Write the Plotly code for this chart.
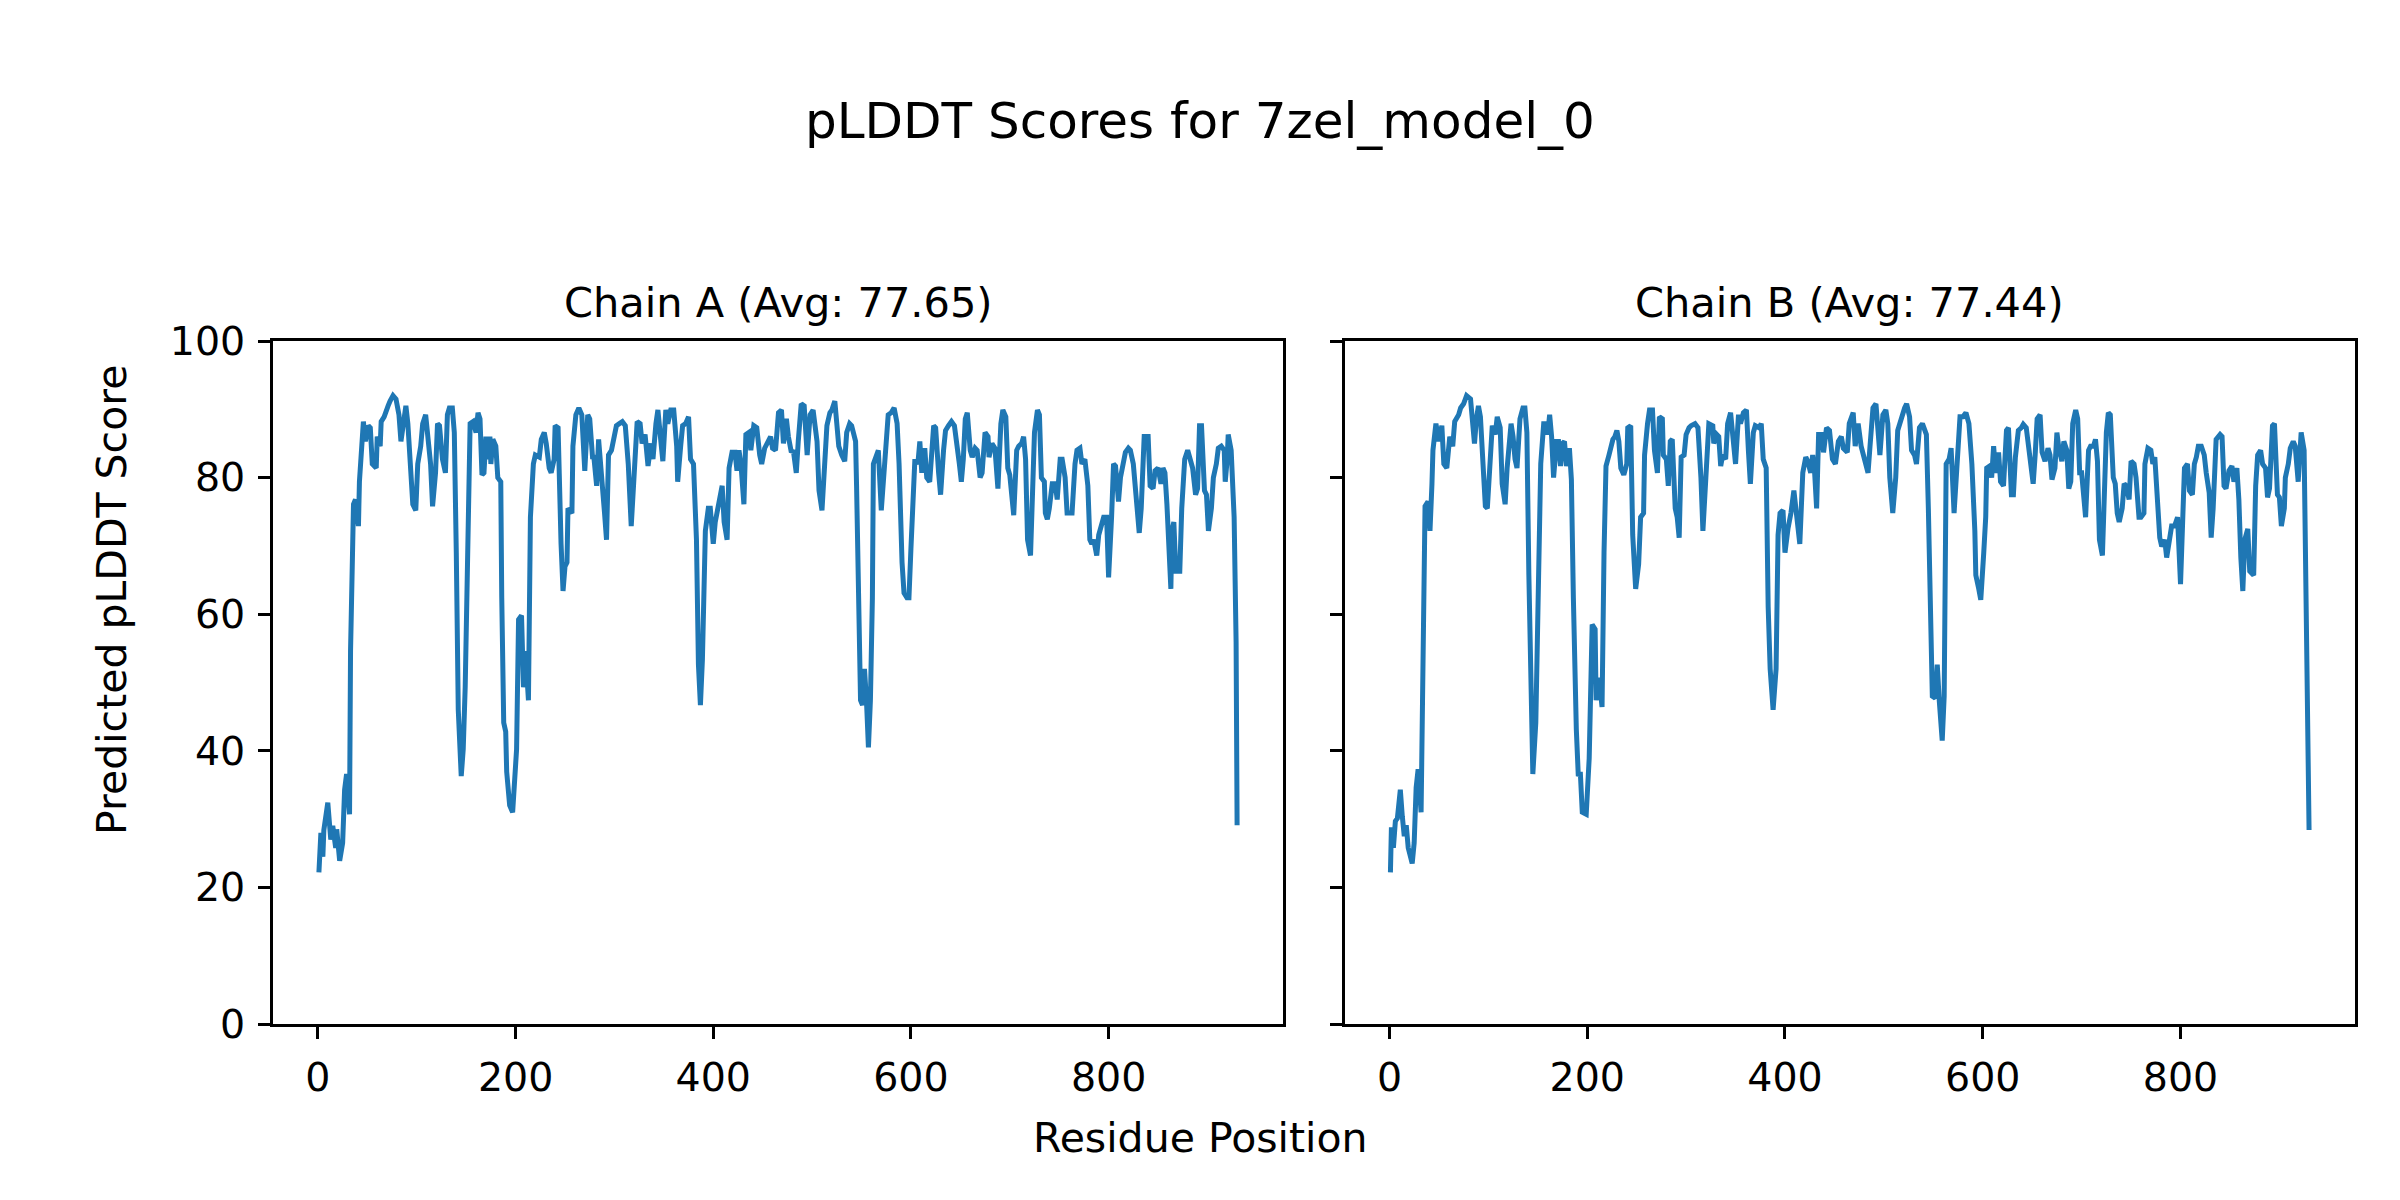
import plotly.graph_objects as go

# ---------------- data ----------------
chain_a_res = [1, 3, 5, 6, 10, 13, 15, 18, 19, 22, 25, 27, 29, 32, 33, 36, 38, 41, 42, 44,
               46, 48, 51, 53, 55, 59, 60, 63, 64, 67, 69, 71, 73, 76, 79, 82, 84, 87, 89, 91,
               94, 96, 99, 101, 104, 106, 109, 111, 114, 116, 119, 121, 123, 126, 129, 131, 133, 136, 138, 140,
               142, 145, 147, 149, 152, 154, 157, 160, 162, 164, 166, 168, 170, 172, 174, 175, 177, 180, 182, 185,
               186, 188, 190, 191, 194, 197, 201, 203, 206, 208, 210, 213, 215, 218, 220, 224, 226, 229, 231, 234,
               236, 239, 240, 243, 246, 248, 250, 252, 253, 257, 258, 261, 264, 267, 270, 273, 275, 278, 279, 282,
               284, 287, 290, 292, 294, 297, 300, 302, 305, 308, 311, 314, 317, 320, 323, 326, 328, 331, 334, 337,
               339, 342, 344, 347, 349, 352, 354, 357, 360, 363, 364, 367, 369, 372, 375, 377, 380, 383, 385, 387,
               389, 392, 395, 397, 400, 402, 405, 409, 411, 414, 416, 419, 422, 424, 426, 428, 431, 433, 436, 438,
               441, 444, 447, 449, 452, 455, 458, 460, 463, 466, 469, 471, 474, 476, 479, 481, 484, 486, 489, 492,
               495, 498, 501, 505, 507, 510, 513, 515, 518, 520, 523, 525, 527, 530, 533, 535, 538, 540, 544, 545,
               547, 549, 551, 553, 555, 557, 559, 561, 562, 564, 567, 570, 573, 575, 577, 580, 583, 586, 588, 591,
               593, 596, 598, 600, 602, 604, 607, 609, 611, 614, 616, 619, 623, 625, 628, 630, 633, 635, 638, 641,
               644, 646, 649, 651, 653, 655, 657, 660, 662, 665, 667, 670, 672, 675, 678, 679, 682, 685, 687, 688,
               691, 693, 696, 698, 700, 702, 704, 707, 709, 712, 714, 716, 718, 721, 724, 725, 728, 730, 732, 735,
               736, 738, 740, 743, 746, 748, 751, 753, 756, 758, 761, 763, 766, 768, 771, 773, 776, 779, 781, 783,
               785, 788, 790, 793, 795, 798, 800, 803, 805, 807, 810, 812, 815, 817, 820, 822, 825, 827, 829, 831,
               833, 836, 840, 842, 845, 847, 850, 853, 855, 857, 859, 861, 863, 864, 866, 868, 872, 874, 875, 877,
               880, 883, 885, 888, 890, 892, 894, 897, 899, 901, 904, 906, 909, 911, 914, 917, 918, 920, 921, 924,
               927, 929, 930]
chain_a_plddt = [22.2, 28.0, 24.5, 28.4, 32.4, 27.0, 29.0, 25.8, 28.5, 23.9, 26.5, 34.3, 36.6, 30.7, 54.6, 76.1, 76.8, 72.9, 79.4, 84.3,
                 88.2, 85.3, 87.6, 87.3, 82.0, 81.4, 86.0, 84.6, 88.2, 88.9, 89.9, 90.5, 91.2, 92.0, 91.5, 89.2, 85.3, 87.9, 90.5, 87.9,
                 82.0, 76.1, 75.2, 82.0, 84.6, 87.9, 89.2, 86.6, 82.0, 75.8, 80.7, 87.9, 87.6, 82.7, 80.7, 89.2, 90.2, 90.2, 86.6, 69.0,
                 46.0, 36.3, 40.2, 49.3, 72.2, 87.9, 88.2, 86.6, 89.5, 88.6, 80.4, 80.7, 86.0, 82.7, 86.0, 82.0, 85.6, 84.6, 80.0, 79.4,
                 62.4, 44.1, 42.8, 36.9, 32.0, 31.0, 40.2, 59.2, 59.8, 49.3, 54.6, 47.4, 74.2, 82.0, 83.3, 83.0, 85.6, 86.6, 85.0, 81.4,
                 80.7, 82.7, 87.6, 87.3, 70.3, 63.4, 67.0, 67.6, 75.5, 74.8, 84.6, 89.2, 90.2, 89.2, 81.0, 89.2, 88.6, 82.7, 83.3, 78.8,
                 85.6, 78.8, 74.8, 70.9, 83.3, 84.0, 86.6, 87.6, 87.9, 88.2, 87.6, 82.0, 72.9, 80.0, 88.2, 87.9, 85.0, 86.3, 81.7, 85.0,
                 82.7, 87.9, 89.9, 85.3, 82.4, 89.9, 87.9, 89.9, 89.9, 84.6, 79.4, 84.6, 87.6, 87.9, 88.9, 82.7, 82.0, 70.9, 52.6, 46.7,
                 53.3, 72.2, 75.5, 75.5, 70.3, 73.5, 75.5, 78.8, 73.5, 70.9, 81.4, 83.7, 83.7, 81.0, 84.0, 82.0, 76.1, 86.3, 86.6, 84.0,
                 87.6, 87.3, 83.3, 82.0, 84.3, 85.3, 86.0, 84.3, 84.0, 89.5, 89.9, 85.0, 88.6, 86.0, 83.7, 84.0, 80.7, 85.3, 90.8, 90.5,
                 83.3, 89.2, 89.9, 85.3, 78.1, 75.2, 83.3, 87.6, 89.5, 89.9, 91.2, 88.6, 84.6, 83.3, 82.4, 86.6, 87.9, 87.6, 85.3, 78.8,
                 55.9, 47.4, 46.7, 52.0, 47.4, 40.5, 47.4, 62.4, 82.0, 82.7, 84.0, 75.2, 82.0, 86.3, 89.2, 89.5, 90.2, 87.9, 82.0, 67.6,
                 63.1, 62.4, 62.4, 69.6, 76.8, 82.7, 82.0, 85.3, 80.7, 84.3, 80.0, 79.4, 87.6, 87.3, 80.7, 77.5, 84.0, 86.9, 87.6, 88.2,
                 87.6, 84.6, 82.0, 79.4, 82.7, 88.6, 89.5, 84.0, 83.0, 84.3, 84.0, 80.0, 80.7, 86.6, 86.0, 83.0, 85.0, 84.3, 78.8, 78.4,
                 87.9, 89.9, 88.9, 81.4, 80.4, 77.1, 74.5, 84.0, 84.6, 85.0, 86.0, 82.7, 70.9, 68.6, 79.4, 86.6, 89.9, 89.2, 80.0, 79.4,
                 74.8, 73.9, 75.5, 79.1, 79.1, 76.8, 82.7, 82.7, 80.0, 74.8, 74.8, 74.8, 82.0, 84.0, 84.3, 82.0, 82.7, 78.8, 70.9, 70.3,
                 70.9, 68.6, 71.6, 72.9, 74.2, 74.2, 65.4, 74.2, 82.0, 81.7, 76.5, 80.0, 82.0, 83.7, 84.3, 84.0, 82.0, 79.1, 74.8, 71.9,
                 75.5, 86.0, 86.0, 78.8, 78.4, 81.0, 81.4, 79.1, 81.4, 80.7, 76.1, 69.0, 63.7, 72.2, 73.5, 66.3, 66.3, 75.5, 78.8, 82.7,
                 84.0, 82.0, 81.4, 77.5, 78.4, 87.6, 87.6, 78.1, 77.5, 72.2, 75.5, 80.0, 82.0, 84.3, 84.6, 84.0, 79.4, 82.7, 86.3, 84.0,
                 74.2, 55.9, 29.1]

chain_b_res = [1, 2, 4, 6, 8, 11, 13, 15, 17, 19, 23, 25, 27, 29, 32, 34, 36, 39, 41, 43,
               44, 47, 50, 53, 55, 58, 61, 64, 66, 70, 72, 75, 78, 82, 84, 86, 88, 90, 92, 94,
               97, 99, 102, 104, 107, 109, 112, 114, 117, 119, 123, 125, 127, 129, 132, 135, 137, 139, 141, 143,
               145, 148, 151, 153, 156, 158, 160, 162, 164, 166, 169, 171, 173, 175, 177, 179, 182, 184, 186, 188,
               189, 191, 193, 195, 199, 202, 205, 208, 209, 212, 215, 217, 219, 222, 226, 228, 230, 232, 234, 237,
               240, 241, 244, 246, 249, 252, 254, 257, 258, 261, 263, 266, 268, 271, 273, 276, 277, 280, 282, 284,
               286, 289, 291, 293, 295, 298, 300, 303, 305, 309, 312, 315, 317, 320, 323, 327, 328, 331, 333, 335,
               337, 340, 342, 345, 348, 350, 353, 355, 358, 361, 363, 365, 368, 370, 374, 376, 378, 381, 383, 385,
               388, 391, 393, 395, 398, 400, 403, 406, 409, 411, 413, 415, 418, 421, 423, 426, 428, 430, 432, 434,
               437, 439, 442, 445, 448, 451, 454, 457, 459, 463, 465, 469, 471, 474, 477, 479, 481, 484, 486, 489,
               492, 494, 496, 499, 502, 504, 506, 509, 512, 514, 516, 519, 521, 523, 526, 528, 531, 533, 536, 539,
               543, 545, 547, 549, 552, 554, 556, 559, 561, 563, 566, 568, 571, 573, 575, 577, 580, 583, 586, 589,
               592, 593, 596, 598, 601, 603, 604, 607, 609, 611, 613, 616, 618, 621, 624, 626, 629, 631, 633, 636,
               639, 641, 644, 647, 649, 651, 653, 655, 658, 660, 663, 666, 668, 670, 673, 675, 677, 680, 682, 685,
               687, 689, 691, 694, 696, 698, 700, 702, 704, 707, 709, 712, 714, 716, 718, 721, 723, 725, 727, 729,
               732, 734, 736, 738, 741, 743, 745, 748, 750, 753, 755, 758, 760, 763, 764, 767, 770, 772, 774, 776,
               779, 781, 784, 786, 789, 791, 794, 797, 800, 802, 804, 807, 809, 812, 814, 816, 818, 821, 824, 826,
               829, 831, 833, 836, 840, 842, 844, 846, 849, 852, 854, 857, 859, 861, 863, 865, 868, 870, 874, 876,
               878, 881, 883, 886, 888, 890, 893, 895, 898, 900, 902, 905, 906, 909, 911, 914, 916, 919, 920, 922,
               925, 926, 928, 930]
chain_b_plddt = [22.2, 28.8, 25.8, 29.7, 30.1, 34.3, 30.4, 27.5, 29.1, 25.8, 23.5, 26.5, 34.6, 37.3, 31.0, 55.9, 75.8, 76.5, 72.2, 79.1,
                 84.0, 87.9, 85.3, 87.6, 82.0, 81.4, 86.0, 84.6, 88.2, 89.2, 90.2, 90.8, 92.0, 91.5, 88.6, 85.0, 88.6, 90.5, 88.9, 82.7,
                 75.8, 75.5, 82.7, 87.6, 86.3, 88.9, 87.3, 79.1, 76.1, 81.4, 87.9, 86.0, 82.7, 81.4, 88.6, 90.2, 90.2, 86.6, 65.7, 46.0,
                 36.6, 44.1, 62.4, 82.0, 87.9, 87.9, 86.3, 89.2, 86.0, 80.0, 85.3, 85.3, 81.7, 85.0, 85.3, 81.7, 84.3, 79.7, 62.4, 46.0,
                 43.1, 36.3, 36.9, 31.0, 30.7, 38.9, 58.5, 57.8, 47.4, 50.7, 46.4, 69.0, 81.7, 83.3, 85.6, 86.0, 86.9, 85.3, 81.4, 80.4,
                 82.0, 87.3, 87.6, 71.6, 63.7, 67.3, 74.2, 74.8, 83.3, 87.9, 89.9, 89.9, 84.0, 80.7, 88.9, 88.6, 83.3, 82.7, 78.8, 85.3,
                 85.6, 75.5, 74.2, 71.2, 83.0, 83.3, 86.3, 87.3, 87.6, 87.9, 87.3, 80.0, 72.2, 80.0, 87.9, 87.6, 85.0, 86.3, 86.0, 81.7,
                 83.3, 82.7, 87.9, 89.5, 85.3, 82.0, 89.2, 87.9, 89.5, 89.9, 84.0, 79.1, 86.6, 87.6, 87.3, 87.9, 82.7, 81.4, 61.1, 52.0,
                 46.0, 52.0, 71.6, 74.8, 75.2, 69.0, 72.5, 74.8, 78.1, 74.8, 72.9, 70.3, 80.7, 83.0, 82.4, 80.7, 83.3, 80.7, 75.5, 86.3,
                 86.3, 83.7, 87.3, 86.9, 82.7, 82.0, 85.3, 86.0, 84.3, 83.7, 87.9, 89.5, 84.6, 87.9, 84.6, 83.3, 82.0, 80.7, 84.6, 90.2,
                 90.8, 86.6, 83.3, 89.2, 89.9, 87.9, 80.0, 74.8, 80.0, 86.9, 87.9, 89.5, 90.2, 90.8, 88.9, 84.0, 83.3, 82.0, 87.3, 87.9,
                 86.3, 75.5, 57.2, 48.0, 47.7, 52.6, 47.4, 41.5, 48.0, 82.0, 82.7, 84.3, 74.8, 80.7, 86.0, 88.9, 88.9, 89.5, 87.9, 82.0,
                 72.2, 65.7, 63.7, 62.1, 69.0, 74.2, 81.4, 81.7, 80.0, 84.6, 80.7, 83.7, 79.4, 78.8, 86.9, 87.3, 77.5, 77.5, 83.0, 86.9,
                 87.3, 87.8, 87.3, 84.0, 81.4, 79.1, 83.3, 88.6, 89.2, 83.7, 82.4, 84.3, 83.3, 79.7, 81.4, 86.6, 84.3, 82.4, 85.3, 84.0,
                 78.4, 79.4, 87.9, 89.9, 88.6, 80.7, 80.7, 76.8, 74.2, 84.0, 84.6, 84.6, 85.6, 82.4, 70.9, 68.6, 77.5, 86.6, 89.5, 89.2,
                 80.0, 79.1, 74.8, 73.5, 75.5, 79.1, 78.8, 76.8, 82.4, 82.0, 80.0, 74.2, 74.2, 74.8, 82.0, 84.3, 84.0, 82.0, 83.0, 78.8,
                 71.2, 69.9, 70.9, 68.3, 70.9, 72.9, 72.9, 74.2, 64.4, 74.2, 81.4, 82.0, 78.1, 77.5, 82.0, 83.0, 84.6, 84.6, 83.3, 80.7,
                 77.8, 71.2, 75.5, 85.6, 86.3, 86.0, 78.8, 78.4, 81.0, 81.7, 79.4, 81.4, 76.8, 68.3, 63.4, 70.9, 72.5, 66.3, 65.7, 78.8,
                 83.3, 84.0, 82.0, 81.4, 77.1, 78.4, 87.6, 87.9, 77.5, 77.1, 72.9, 75.5, 80.0, 82.0, 84.3, 85.3, 84.6, 79.4, 82.7, 86.6,
                 84.0, 74.8, 55.9, 28.4]

main_title = "pLDDT Scores for 7zel_model_0"
subplot_titles = ["Chain A (Avg: 77.65)", "Chain B (Avg: 77.44)"]
x_label = "Residue Position"
y_label = "Predicted pLDDT Score"
x_ticks = [0, 200, 400, 600, 800]
y_ticks = [0, 20, 40, 60, 80, 100]

# ---------------- layout constants ----------------
W, H = 2400, 1200
LINE_COLOR = "#1f77b4"
FONT = "DejaVu Sans"
ax_a = (273, 1283)
ax_b = (1344.5, 2355)
ax_top, ax_bot = 341, 1024
xr = [-45.45, 976.45]

def px(x):
    return x / W

def py(y):
    return 1 - y / H

fig = go.Figure()
fig.add_trace(go.Scatter(x=chain_a_res, y=chain_a_plddt, mode="lines",
                         line=dict(color=LINE_COLOR, width=5.0), xaxis="x", yaxis="y",
                         showlegend=False, hoverinfo="x+y"))
fig.add_trace(go.Scatter(x=chain_b_res, y=chain_b_plddt, mode="lines",
                         line=dict(color=LINE_COLOR, width=5.0), xaxis="x2", yaxis="y2",
                         showlegend=False, hoverinfo="x+y"))

axis_common = dict(showline=True, linecolor="black", linewidth=2.7, mirror=True,
                   ticks="outside", ticklen=12, tickwidth=2.7, tickcolor="black",
                   showgrid=False, zeroline=False, automargin=False,
                   tickfont=dict(family=FONT, size=39.5, color="black"))

fig.update_layout(
    template="none",
    width=W, height=H, autosize=False,
    margin=dict(l=0, r=0, t=0, b=0, pad=0),
    paper_bgcolor="white", plot_bgcolor="white",
    font=dict(family=FONT, color="black"),
    showlegend=False,
    xaxis=dict(domain=[px(ax_a[0]), px(ax_a[1])], range=xr, tickvals=x_ticks,
               anchor="y", ticklabelstandoff=5, **axis_common),
    yaxis=dict(domain=[py(ax_bot), py(ax_top)], range=[0, 100], tickvals=y_ticks,
               anchor="x", ticklabelstandoff=5, **axis_common),
    xaxis2=dict(domain=[px(ax_b[0]), px(ax_b[1])], range=xr, tickvals=x_ticks,
                anchor="y2", ticklabelstandoff=5, **axis_common),
    yaxis2=dict(domain=[py(ax_bot), py(ax_top)], range=[0, 100], tickvals=y_ticks,
                anchor="x2", showticklabels=False, **axis_common),
)

annotations = [
    dict(text=main_title, x=0.5, y=py(121), font=dict(size=50)),
    dict(text=subplot_titles[0], x=px((ax_a[0] + ax_a[1]) / 2), y=py(302), font=dict(size=41.5)),
    dict(text=subplot_titles[1], x=px((ax_b[0] + ax_b[1]) / 2), y=py(302), font=dict(size=41.5)),
    dict(text=x_label, x=0.5, y=py(1138), font=dict(size=41)),
    dict(text=y_label, x=px(112), y=0.5, font=dict(size=41), textangle=-90),
]
for a in annotations:
    a.update(xref="paper", yref="paper", showarrow=False, xanchor="center", yanchor="middle")
    a["font"].update(family=FONT, color="black")
fig.update_layout(annotations=annotations)

fig.write_html("out.html",
               config={"displayModeBar": False},
               post_script="document.body.style.margin='0';document.body.style.overflow='hidden';")
